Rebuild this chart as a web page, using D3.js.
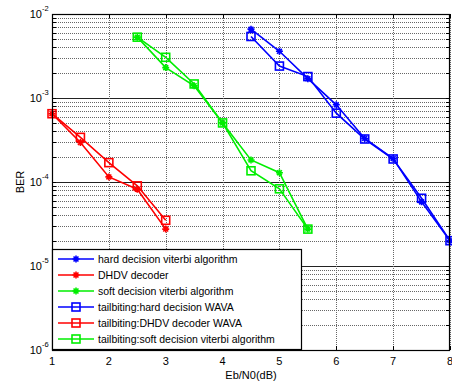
<!DOCTYPE html>
<html>
<head>
<meta charset="utf-8">
<script src="https://cdn.jsdelivr.net/npm/d3@7"></script>
<style>
body { margin: 0; background: #fff; }
text { font-family: "Liberation Sans", Arial, sans-serif; fill: #000; }
</style>
</head>
<body>
<svg></svg>
<script>
var xHard = [4.5, 5, 5.5, 6, 6.5, 7, 7.5, 8];
var hard = [6.6e-3, 3.6e-3, 1.7e-3, 8.3e-4, 3.3e-4, 1.9e-4, 5.8e-5, 2.0e-5];
var tbHard = [5.4e-3, 2.4e-3, 1.8e-3, 6.6e-4, 3.25e-4, 1.88e-4, 6.4e-5, 2.0e-5];

var xDhdv = [1, 1.5, 2, 2.5, 3];
var dhdv = [6.5e-4, 2.95e-4, 1.15e-4, 8.2e-5, 2.75e-5];
var tbDhdv = [6.5e-4, 3.4e-4, 1.7e-4, 9.0e-5, 3.5e-5];

var xSoft = [2.5, 3, 3.5, 4, 4.5, 5, 5.5];
var soft = [5.3e-3, 2.3e-3, 1.4e-3, 5.05e-4, 1.83e-4, 1.29e-4, 2.75e-5];
var tbSoft = [5.3e-3, 3.05e-3, 1.47e-3, 5.05e-4, 1.36e-4, 8.3e-5, 2.75e-5];

var legendNames = ["hard decision viterbi algorithm", "DHDV decoder", "soft decision viterbi algorithm",
  "tailbiting:hard decision WAVA", "tailbiting:DHDV decoder WAVA", "tailbiting:soft decision viterbi algorithm"];

var xTicks = [1, 2, 3, 4, 5, 6, 7, 8];
var yExps = [-2, -3, -4, -5, -6];

var series = [
  {x: xHard, y: hard, color: "#0000ff", mark: "star"},
  {x: xDhdv, y: dhdv, color: "#ff0000", mark: "star"},
  {x: xSoft, y: soft, color: "#00ee00", mark: "star"},
  {x: xHard, y: tbHard, color: "#0000ff", mark: "square"},
  {x: xDhdv, y: tbDhdv, color: "#ff0000", mark: "square"},
  {x: xSoft, y: tbSoft, color: "#00ee00", mark: "square"}
];

var W = 452, H = 381;
var pL = 52, pR = 450, pT = 14, pB = 350;

var svg = d3.select("svg").attr("width", W).attr("height", H);

var x = d3.scaleLinear().domain([1, 8]).range([pL, pR]);
var y = d3.scaleLog().domain([1e-6, 1e-2]).range([pB, pT]);

// grid
var minors = [];
for (var e = -6; e < -2; e++) {
  for (var k = 2; k <= 9; k++) minors.push(k * Math.pow(10, e));
}
var grid = svg.append("g");
grid.selectAll(".gy").data(minors).enter().append("line")
  .attr("x1", pL).attr("x2", pR)
  .attr("y1", function(d) { return Math.round(y(d)) + 0.5; })
  .attr("y2", function(d) { return Math.round(y(d)) + 0.5; })
  .attr("stroke", "#666").attr("stroke-dasharray", "1,1");
grid.selectAll(".gY").data(yExps).enter().append("line")
  .attr("x1", pL).attr("x2", pR)
  .attr("y1", function(d) { return Math.round(y(Math.pow(10, d))) + 0.5; })
  .attr("y2", function(d) { return Math.round(y(Math.pow(10, d))) + 0.5; })
  .attr("stroke", "#222");
grid.selectAll(".gx").data(xTicks).enter().append("line")
  .attr("y1", pT).attr("y2", pB)
  .attr("x1", function(d) { return Math.round(x(d)) + 0.5; })
  .attr("x2", function(d) { return Math.round(x(d)) + 0.5; })
  .attr("stroke", "#666").attr("stroke-dasharray", "1,1");

// ticks on all sides
var ticks = svg.append("g").attr("stroke", "#000");
minors.concat(yExps.map(function(d) { return Math.pow(10, d); })).forEach(function(v) {
  var yy = Math.round(y(v)) + 0.5;
  ticks.append("line").attr("x1", pL).attr("x2", pL + 4).attr("y1", yy).attr("y2", yy);
  ticks.append("line").attr("x1", pR - 4).attr("x2", pR).attr("y1", yy).attr("y2", yy);
});
xTicks.forEach(function(v) {
  var xx = Math.round(x(v)) + 0.5;
  ticks.append("line").attr("x1", xx).attr("x2", xx).attr("y1", pB).attr("y2", pB - 4);
  ticks.append("line").attr("x1", xx).attr("x2", xx).attr("y1", pT).attr("y2", pT + 4);
});

function drawMark(g, cx, cy, s) {
  if (s.mark === "square") {
    g.append("rect").attr("x", cx - 4).attr("y", cy - 4).attr("width", 8).attr("height", 8)
      .attr("fill", "none").attr("stroke", s.color).attr("stroke-width", 1.6);
  } else {
    var r = 3.5;
    var p = "M" + (cx - r) + "," + cy + "L" + (cx + r) + "," + cy +
      "M" + cx + "," + (cy - r) + "L" + cx + "," + (cy + r) +
      "M" + (cx - r * 0.7) + "," + (cy - r * 0.7) + "L" + (cx + r * 0.7) + "," + (cy + r * 0.7) +
      "M" + (cx - r * 0.7) + "," + (cy + r * 0.7) + "L" + (cx + r * 0.7) + "," + (cy - r * 0.7);
    g.append("path").attr("d", p).attr("stroke", s.color).attr("stroke-width", 1.6);
  }
}

// lines and markers
var line = d3.line();
series.forEach(function(s) {
  var pts = s.x.map(function(v, i) { return [x(v), y(s.y[i])]; });
  svg.append("path").attr("d", line(pts)).attr("fill", "none")
    .attr("stroke", s.color).attr("stroke-width", 1.6);
  pts.forEach(function(p) { drawMark(svg, p[0], p[1], s); });
});

// axes frame
svg.append("rect").attr("x", pL + 0.5).attr("y", pT + 0.5)
  .attr("width", pR - pL - 1).attr("height", pB - pT)
  .attr("fill", "none").attr("stroke", "#000").attr("stroke-width", 1.2);

// tick labels
svg.selectAll(".xl").data(xTicks).enter().append("text")
  .attr("x", function(d) { return x(d); }).attr("y", pB + 15)
  .attr("text-anchor", "middle").attr("font-size", "11px")
  .text(function(d) { return d; });

var yl = svg.selectAll(".yl").data(yExps).enter().append("g")
  .attr("transform", function(d) { return "translate(" + (pL - 10) + "," + y(Math.pow(10, d)) + ")"; });
yl.append("text").attr("text-anchor", "end").attr("y", 4).attr("font-size", "11px").text("10");
yl.append("text").attr("x", 0).attr("y", -3).attr("font-size", "7.5px")
  .text(function(d) { return d; });

svg.append("text").attr("x", (pL + pR) / 2).attr("y", pB + 29)
  .attr("text-anchor", "middle").attr("font-size", "11px").text("Eb/N0(dB)");
svg.append("text").attr("transform", "translate(24," + y(1e-4) + ") rotate(-90)")
  .attr("text-anchor", "middle").attr("font-size", "11px").text("BER");

// legend
var lg = svg.append("g");
lg.append("rect").attr("x", pL + 0.5).attr("y", 249.5).attr("width", 249).attr("height", 100)
  .attr("fill", "#fff").attr("stroke", "#000").attr("stroke-width", 1.2);
legendNames.forEach(function(name, i) {
  var s = series[i];
  var yy = 259 + i * 16;
  lg.append("line").attr("x1", 58).attr("x2", 94).attr("y1", yy).attr("y2", yy)
    .attr("stroke", s.color).attr("stroke-width", 1.6);
  drawMark(lg, 76, yy, s);
  lg.append("text").attr("x", 98).attr("y", yy + 4).attr("font-size", "10.5px").text(name);
});
</script>
</body>
</html>
